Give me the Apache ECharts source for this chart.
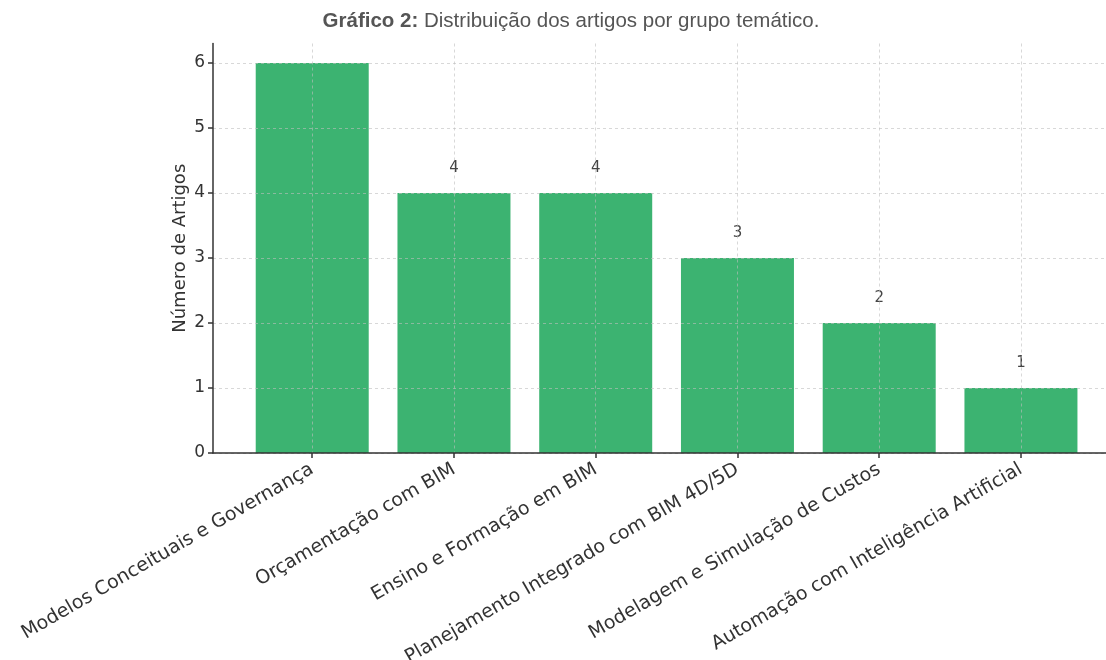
<!DOCTYPE html>
<html><head><meta charset="utf-8">
<script src="https://cdn.jsdelivr.net/npm/echarts@6/dist/echarts.min.js"></script>
<style>html,body{margin:0;padding:0;background:#fff}#c{width:1106px;height:660px}</style>
</head><body><div id="c"></div>
<script>
const categories = ["Modelos Conceituais e Governança","Orçamentação com BIM","Ensino e Formação em BIM","Planejamento Integrado com BIM 4D/5D","Modelagem e Simulação de Custos","Automação com Inteligência Artificial"];
const values = [6, 4, 4, 3, 2, 1];
const yTicks = [0, 1, 2, 3, 4, 5, 6];
const titleBold = "Gráfico 2:";
const titleRest = " Distribuição dos artigos por grupo temático.";
const yName = "Número de Artigos";

const yMax = 6.3;
const chart = echarts.init(document.getElementById('c'));
const font = 'DejaVu Sans';
chart.setOption({
  animation: false,
  title: {
    text: '{b|' + titleBold + '}{n|' + titleRest + '}',
    left: 566, top: 6, textAlign: 'center',
    textStyle: { rich: {
      b: { fontFamily: 'Liberation Sans', fontWeight: 'bold', fontSize: 20.5, color: '#555' },
      n: { fontFamily: 'Liberation Sans', fontWeight: 'normal', fontSize: 20.5, color: '#555' }
    }}
  },
  grid: { left: 213, right: 0, top: 43.5, bottom: 207, containLabel: false, outerBoundsMode: 'none' },
  xAxis: {
    type: 'value', min: -0.7, max: 5.6, z: 3,
    axisLine: { show: true, onZero: false, lineStyle: { color: '#333', width: 1.5 } },
    axisTick: { show: true, customValues: categories.map((c, i) => i), length: 5, lineStyle: { color: '#333', width: 1.5 } },
    axisLabel: { customValues: categories.map((c, i) => i), rotate: 30, margin: 15, fontFamily: font, fontSize: 19, color: '#333',
      formatter: v => categories[Math.round(v)] },
    splitLine: { show: true, lineStyle: { type: [3, 3], color: 'rgba(190,190,190,0.6)', width: 1 } }
  },
  yAxis: {
    type: 'value', min: 0, max: yMax, z: 3,
    name: yName, nameLocation: 'middle', nameGap: 24, nameRotate: 90, nameMoveOverlap: false,
    nameTextStyle: { fontFamily: font, fontSize: 18, color: '#333' },
    axisLine: { show: true, onZero: false, lineStyle: { color: '#333', width: 1.5 } },
    axisTick: { show: true, customValues: yTicks, length: 5, lineStyle: { color: '#333', width: 1.5 } },
    axisLabel: { customValues: yTicks, fontFamily: font, fontSize: 17, color: '#333', margin: 8 },
    splitLine: { show: true, lineStyle: { type: [3, 3], color: 'rgba(190,190,190,0.6)', width: 1 } }
  },
  series: [{
    type: 'bar', barWidth: 113, z: 2,
    itemStyle: { color: '#3cb371' },
    label: { show: true, position: 'top', distance: 17, fontFamily: font, fontSize: 15, color: '#444' },
    data: values.map((v, i) => ({ value: [i, v], label: { show: v + 0.4 < yMax } }))
  }]
});
</script></body></html>
